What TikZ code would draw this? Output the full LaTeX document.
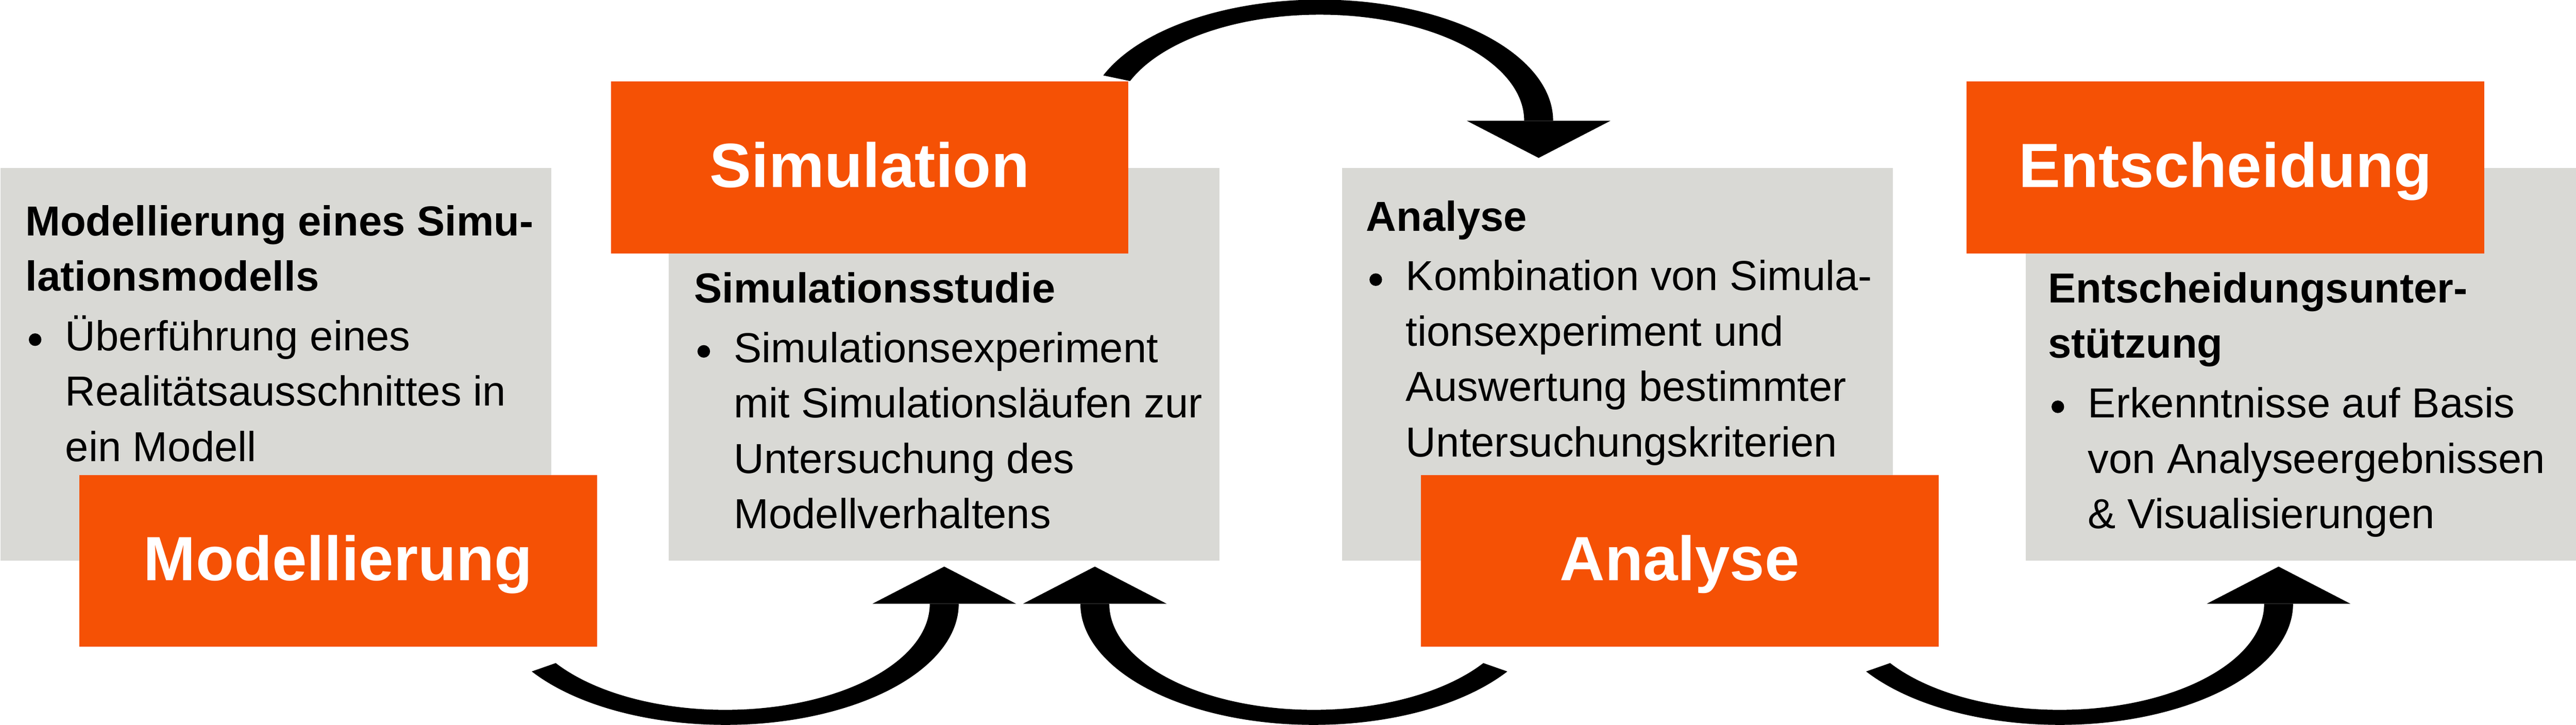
\documentclass[tikz,border=0pt]{standalone}
\usepackage{fontspec}
\setmainfont{Liberation Sans}
\definecolor{boxGray}{RGB}{217,217,213}
\definecolor{phaseOrange}{RGB}{245,81,5}
\newcommand{\bul}{\makebox[0.95cm][l]{\hspace{0.08cm}\tikz[baseline={(0,-0.26)}]\fill (0,0) circle (0.15cm);}}
\newcommand{\ind}{\hspace*{0.95cm}}

\begin{document}
\begin{tikzpicture}
\tikzstyle{box}=[fill=boxGray, minimum width=13.13cm, minimum height=9.36cm, inner sep=0pt, anchor=south west]
\tikzstyle{phase}=[fill=phaseOrange, minimum width=12.34cm, minimum height=4.1cm, inner sep=0pt, text=white, font=\fontsize{42.4pt}{50pt}\selectfont\bfseries, text height=1.2cm, text depth=0.26cm]
\tikzstyle{boxText}=[anchor=base west, align=left, inner sep=0pt, font=\fontsize{28.45pt}{37.56pt}\selectfont]
\tikzstyle{bigArrow}=[fill=black]

\useasboundingbox (0,0) rectangle (61.41,17.27);

\node[box] (modBox) at (0,3.9) {};
\node[box] (simBox) at (15.94,3.9) {};
\node[box] (anaBox) at (31.99,3.9) {};
\node[box] (entBox) at (48.28,3.9) {};

% base of each text block = baseline of its last line
\node[boxText] (modText) at ([xshift=0.6cm,yshift=-7.0cm]modBox.north west) {\textbf{Modellierung eines Simu-}\\
\textbf{lationsmodells}\\[0.1cm]
\bul Überführung eines\\
\ind Realitätsausschnittes in\\
\ind ein Modell};

\node[boxText] (simText) at ([xshift=0.6cm,yshift=-8.6cm]simBox.north west) {\textbf{Simulationsstudie}\\[0.1cm]
\bul Simulationsexperiment\\
\ind mit Simulationsläufen zur\\
\ind Untersuchung des\\
\ind Modellverhaltens};

\node[boxText] (anaText) at ([xshift=0.57cm,yshift=-6.89cm]anaBox.north west) {\textbf{Analyse}\\[0.1cm]
\bul Kombination von Simula-\\
\ind tionsexperiment und\\
\ind Auswertung bestimmter\\
\ind Untersuchungskriterien};

\node[boxText] (entText) at ([xshift=0.54cm,yshift=-8.6cm]entBox.north west) {\textbf{Entscheidungsunter-}\\
\textbf{stützung}\\[0.1cm]
\bul Erkenntnisse auf Basis\\
\ind von Analyseergebnissen\\
\ind \& Visualisierungen};

\node[phase] (modPhase) at ([xshift=1.49cm]modBox.south) {Modellierung};
\node[phase] (simPhase) at ([xshift=-1.78cm]simBox.north) {Simulation};
\node[phase] (anaPhase) at ([xshift=1.48cm]anaBox.south) {Analyse};
\node[phase] (entPhase) at ([xshift=-1.80cm]entBox.north) {Entscheidung};

% curved arrows between the phases
\coordinate (arcModSim) at (17.29,2.88);
\coordinate (arcAnaSim) at (31.32,2.88);
\coordinate (arcSimAna) at (31.46,14.39);
\coordinate (arcAnaEnt) at (49.10,2.88);

\begin{scope}[shift={(arcModSim)}, yscale=0.519]
\fill[bigArrow] (214:5.565) arc[start angle=214, end angle=360, radius=5.565] -- (0:4.875) arc[start angle=360, end angle=214, radius=4.875] -- cycle;
\fill[bigArrow] (3.51,0) -- (5.22,1.705) -- (6.93,0) -- cycle;
\end{scope}

\begin{scope}[shift={(arcAnaSim)}, yscale=0.519]
\fill[bigArrow] (-34:5.565) arc[start angle=-34, end angle=-180, radius=5.565] -- (180:4.875) arc[start angle=-180, end angle=-34, radius=4.875] -- cycle;
\fill[bigArrow] (-6.93,0) -- (-5.22,1.705) -- (-3.51,0) -- cycle;
\end{scope}

\begin{scope}[shift={(arcSimAna)}, yscale=0.519]
\fill[bigArrow] (158:5.565) arc[start angle=158, end angle=0, radius=5.565] -- (0:4.875) arc[start angle=0, end angle=158, radius=4.875] -- cycle;
\fill[bigArrow] (3.51,0) -- (5.22,-1.705) -- (6.93,0) -- cycle;
\end{scope}

\begin{scope}[shift={(arcAnaEnt)}, yscale=0.519]
\fill[bigArrow] (214:5.565) arc[start angle=214, end angle=360, radius=5.565] -- (0:4.875) arc[start angle=360, end angle=214, radius=4.875] -- cycle;
\fill[bigArrow] (3.51,0) -- (5.22,1.705) -- (6.93,0) -- cycle;
\end{scope}

\end{tikzpicture}
\end{document}
